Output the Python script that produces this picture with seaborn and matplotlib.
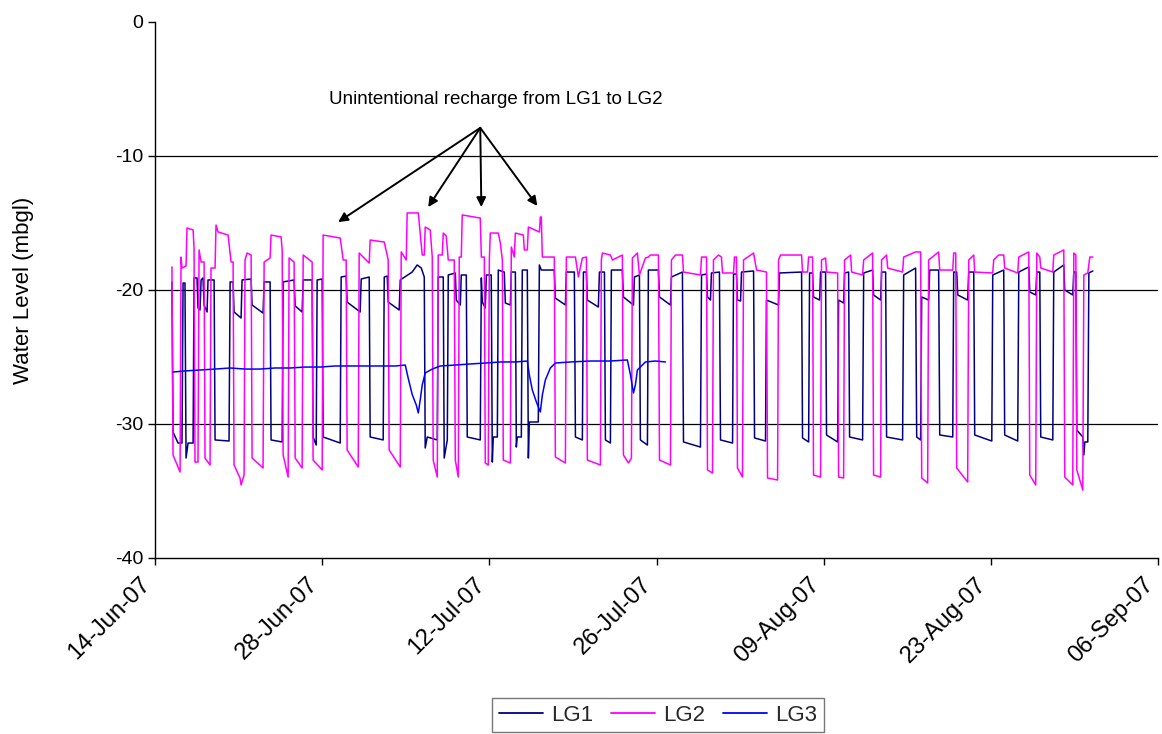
import numpy as np
import pandas as pd
import matplotlib
matplotlib.use("Agg")
import matplotlib.pyplot as plt
import matplotlib.dates as mdates
from matplotlib.lines import Line2D
import seaborn as sns

# ---- data: days since 14-Jun-2007, water level (m below ground) ----
lg1_days = [1.42,1.51,1.93,2.26,2.35,2.51,2.60,2.77,3.19,3.27,3.52,3.60,3.77,3.86,4.02,4.11,4.36,4.44,4.95,5.03,
            6.20,6.29,6.54,6.62,7.21,7.29,8.05,8.13,9.05,9.14,9.64,9.72,10.65,10.73,11.65,11.74,12.32,12.41,13.16,13.24,
            13.50,13.58,14.00,14.08,15.51,15.59,16.01,16.09,17.18,17.27,17.94,18.02,19.11,19.20,19.45,19.53,20.45,20.54,21.54,21.96,
            22.30,22.55,22.63,22.80,23.64,23.72,24.14,24.22,24.48,24.56,25.15,25.23,25.57,25.65,26.07,26.15,27.24,27.33,27.41,27.66,
            27.75,28.16,28.25,28.33,28.67,28.75,29.25,29.34,29.76,29.84,30.18,30.26,30.34,30.68,30.76,31.18,31.27,31.35,32.10,32.19,
            32.35,33.44,33.53,34.37,34.45,35.12,35.21,35.79,35.88,36.13,36.21,37.13,37.22,37.64,37.72,38.14,38.22,39.14,39.23,40.07,
            40.15,40.57,40.65,41.24,41.32,42.16,42.25,43.17,43.25,44.17,44.26,45.68,45.77,46.19,46.27,46.52,46.60,47.27,47.36,48.37,
            48.45,48.70,48.78,49.04,49.12,50.13,50.21,51.13,51.21,52.22,52.30,54.15,54.23,54.74,54.82,55.07,55.15,55.66,55.74,56.16,
            56.24,57.17,57.25,57.67,57.75,58.09,58.17,59.26,59.35,60.10,60.18,60.77,60.85,61.19,61.27,62.61,62.70,63.70,63.79,64.12,
            64.21,64.79,64.88,65.63,65.72,66.81,66.89,67.14,67.23,68.06,68.15,68.57,68.65,70.08,70.16,71.08,71.16,72.25,72.34,73.18,
            73.26,73.76,73.85,74.10,74.18,75.19,75.27,76.11,76.19,76.86,76.95,77.12,77.20,77.70,77.79,77.87,78.12,78.21,78.54]
lg1_level = [-19.40,-30.60,-31.42,-31.42,-19.48,-19.48,-32.54,-31.42,-31.42,-19.10,-19.10,-21.34,-21.49,-19.25,-19.10,-21.12,-21.64,-19.25,-19.25,-31.19,
             -31.27,-19.40,-19.40,-21.64,-22.09,-19.25,-19.18,-21.12,-21.72,-19.40,-19.40,-31.19,-31.34,-19.40,-19.25,-21.19,-21.64,-19.25,-19.25,-30.97,
             -31.57,-19.25,-19.18,-30.97,-31.42,-19.03,-18.96,-20.90,-21.64,-19.18,-19.03,-30.97,-31.19,-19.03,-18.96,-20.90,-21.49,-19.25,-18.66,-18.13,
             -18.36,-19.03,-31.79,-30.97,-31.19,-19.03,-19.03,-32.54,-31.19,-18.88,-18.73,-20.75,-21.12,-18.88,-18.88,-30.97,-31.19,-19.10,-20.90,-21.34,
             -18.88,-18.88,-32.84,-30.97,-30.97,-18.51,-18.66,-20.97,-21.12,-18.66,-18.66,-31.72,-30.97,-30.97,-18.51,-18.51,-32.54,-29.85,-29.85,-18.13,
             -18.51,-18.51,-20.60,-21.12,-18.66,-18.66,-30.97,-31.19,-18.66,-18.66,-20.75,-21.27,-18.66,-18.66,-31.19,-31.42,-18.51,-18.51,-20.52,-21.12,
             -19.03,-18.88,-31.19,-31.57,-18.51,-18.51,-20.52,-21.12,-19.03,-18.66,-31.34,-31.72,-18.88,-18.81,-20.52,-20.75,-18.73,-18.66,-31.19,-31.42,
             -18.81,-18.81,-20.75,-20.82,-18.66,-18.58,-31.04,-31.27,-20.75,-21.12,-18.73,-18.66,-31.04,-31.34,-18.73,-18.73,-20.52,-20.75,-18.66,-18.66,
             -30.82,-31.34,-20.75,-20.97,-18.73,-18.66,-30.97,-31.19,-18.73,-18.51,-20.37,-20.75,-18.66,-18.66,-30.97,-31.19,-18.88,-18.36,-30.97,-31.19,
             -20.52,-20.75,-18.51,-18.51,-30.82,-30.97,-18.66,-18.66,-20.37,-20.75,-18.66,-18.66,-30.82,-31.27,-18.88,-18.51,-30.82,-31.27,-18.66,-18.28,
             -20.15,-20.37,-18.66,-18.66,-30.97,-31.19,-18.66,-18.13,-20.00,-20.37,-18.66,-18.66,-30.45,-30.97,-32.31,-31.34,-31.34,-18.73,-18.58]

lg2_days = [1.42,1.51,2.10,2.18,2.26,2.60,2.68,3.19,3.27,3.35,3.60,3.69,3.86,4.11,4.19,4.61,4.69,5.03,5.11,5.28,
            6.12,6.37,6.54,6.62,7.12,7.21,7.46,7.54,7.71,8.05,8.13,9.05,9.14,9.64,9.72,10.56,10.65,10.73,11.15,11.23,
            11.65,11.74,12.32,12.41,13.16,13.24,14.00,14.08,15.51,15.76,16.01,16.09,17.02,17.10,17.94,18.02,19.20,19.53,19.61,20.54,
            20.62,21.04,21.12,22.05,22.38,22.55,22.63,23.05,23.22,23.30,23.64,23.72,24.06,24.14,24.39,24.56,25.06,25.15,25.40,25.48,
            25.65,25.73,27.24,27.33,27.58,27.66,27.91,28.00,28.08,28.75,28.92,29.09,29.17,29.76,29.84,30.09,30.18,30.85,30.93,31.18,
            31.27,32.19,32.27,32.35,32.44,33.44,33.53,34.37,34.45,35.21,35.46,35.79,36.13,36.21,37.30,37.38,37.47,38.14,38.31,39.14,
            39.23,39.65,39.90,39.98,40.40,40.57,41.07,41.32,41.49,42.16,42.25,43.17,43.25,43.59,44.17,44.26,45.68,45.77,46.19,46.27,
            46.69,46.77,47.19,47.44,47.53,48.45,48.53,48.70,48.78,49.20,49.29,50.13,50.38,51.21,51.30,52.14,52.22,52.39,54.15,54.23,
            54.65,54.74,55.07,55.15,55.74,55.82,56.16,56.24,57.17,57.25,57.67,57.75,58.26,58.34,59.26,59.35,60.10,60.18,60.77,60.85,
            61.27,61.36,62.61,62.70,63.70,64.12,64.21,64.71,64.79,65.63,65.72,66.81,66.89,67.06,67.14,68.06,68.15,68.57,68.65,70.16,
            70.24,70.66,71.08,71.16,72.25,72.34,73.18,73.26,73.76,73.85,74.10,74.18,75.19,75.27,76.11,76.19,76.86,76.95,77.12,77.20,
            77.70,77.79,78.12,78.29,78.54]
lg2_level = [-18.28,-32.31,-33.58,-17.54,-18.36,-18.21,-15.37,-15.52,-16.87,-32.84,-32.84,-17.01,-17.91,-17.91,-32.54,-33.06,-18.36,-18.36,-15.15,-15.67,
             -15.90,-17.91,-17.91,-33.06,-34.03,-34.55,-33.81,-17.76,-17.24,-17.39,-32.54,-33.28,-17.91,-17.61,-15.90,-16.04,-17.01,-32.31,-33.96,-17.61,
             -17.91,-32.54,-33.28,-17.39,-17.91,-32.69,-33.43,-15.90,-16.12,-17.76,-17.76,-31.94,-33.21,-17.24,-17.99,-16.27,-16.42,-17.76,-31.94,-33.21,
             -17.16,-17.76,-14.25,-14.25,-17.39,-17.39,-15.30,-15.52,-17.54,-32.69,-33.96,-17.39,-17.39,-15.75,-15.97,-17.76,-17.76,-32.69,-33.96,-17.54,
             -17.54,-14.40,-14.63,-17.54,-17.54,-32.91,-33.06,-17.76,-15.75,-15.75,-16.49,-17.76,-32.69,-32.91,-16.79,-17.54,-15.75,-15.90,-17.01,-17.01,
             -15.30,-15.67,-14.55,-14.55,-17.54,-17.54,-32.46,-32.91,-17.54,-17.54,-19.03,-17.61,-17.54,-32.69,-33.06,-17.76,-17.24,-17.39,-17.76,-17.39,
             -32.31,-32.91,-32.54,-17.61,-17.24,-18.88,-17.61,-17.54,-17.39,-17.39,-32.69,-33.06,-17.76,-17.39,-17.39,-18.66,-18.88,-17.54,-17.54,-33.43,
             -33.66,-17.76,-17.39,-17.54,-18.73,-18.73,-17.54,-17.54,-33.28,-33.96,-17.76,-17.24,-18.51,-18.66,-34.03,-34.18,-17.76,-17.39,-17.39,-18.66,
             -18.66,-17.54,-17.54,-33.81,-33.96,-17.76,-17.61,-18.66,-18.73,-33.96,-34.03,-17.76,-17.39,-18.66,-18.88,-17.76,-17.24,-33.81,-33.96,-17.76,
             -17.39,-18.36,-18.66,-17.54,-17.16,-17.16,-34.03,-34.40,-17.76,-17.16,-18.51,-18.51,-17.24,-17.24,-33.28,-34.33,-17.76,-17.39,-18.66,-18.73,
             -17.76,-17.39,-17.39,-18.36,-18.73,-17.54,-17.16,-33.81,-34.55,-17.24,-17.54,-18.36,-18.66,-17.39,-17.01,-33.96,-34.55,-17.24,-17.39,-33.43,
             -34.93,-18.88,-18.73,-17.54,-17.54]

lg3_days = [1.51,2.51,3.77,5.03,6.29,7.54,8.80,10.06,11.32,12.57,13.83,15.09,16.35,17.60,18.86,20.12,20.96,21.21,21.54,21.88,
            22.05,22.21,22.38,22.63,23.22,23.89,25.15,26.40,27.66,28.92,30.18,31.18,31.35,31.60,31.94,32.27,32.44,32.69,33.11,33.53,
            34.79,36.46,38.14,39.56,39.82,40.07,40.23,40.40,41.07,41.91,42.75]
lg3_level = [-26.12,-26.04,-25.97,-25.90,-25.82,-25.90,-25.90,-25.82,-25.82,-25.75,-25.75,-25.67,-25.67,-25.67,-25.67,-25.67,-25.60,-26.60,-27.80,-28.58,
             -29.18,-28.21,-27.09,-26.19,-25.90,-25.67,-25.60,-25.52,-25.45,-25.37,-25.37,-25.30,-26.34,-27.46,-28.36,-29.10,-27.84,-26.72,-25.82,-25.45,
             -25.37,-25.30,-25.30,-25.22,-26.34,-27.69,-27.09,-25.97,-25.37,-25.30,-25.37]

series_names = ["LG1", "LG2", "LG3"]
series_colors = ["#000080", "#FF00FF", "#0000FF"]
y_ticks = [0, -10, -20, -30, -40]
annotation_text = "Unintentional recharge from LG1 to LG2"
start_date = pd.Timestamp("2007-06-14")
end_date = pd.Timestamp("2007-09-06")

frames = []
for name, d, v in zip(series_names, [lg1_days, lg2_days, lg3_days], [lg1_level, lg2_level, lg3_level]):
    frames.append(pd.DataFrame({"date": start_date + pd.to_timedelta(d, unit="D"),
                                "level": v, "series": name}))
df = pd.concat(frames, ignore_index=True)

sns.set_theme(style="white")
plt.rcParams["font.family"] = ["Liberation Sans", "DejaVu Sans"]
plt.rcParams["axes.unicode_minus"] = False

fig = plt.figure(figsize=(11.62, 7.34), dpi=100)
ax = fig.add_axes([155/1162, (734-558)/734, (1158-155)/1162, (558-22)/734])

sns.lineplot(data=df, x="date", y="level", hue="series", hue_order=series_names,
             palette=series_colors, sort=False, estimator=None, units="series",
             linewidth=1.1, ax=ax, legend=False)

ax.set_xlim(start_date, end_date)
ax.set_ylim(-40, 0)
ax.set_yticks(y_ticks)
for yv in y_ticks[1:-1]:
    ax.axhline(yv, color="black", linewidth=0.9, zorder=0)

ticks = pd.date_range(start_date, end_date, freq="14D")
ax.set_xticks(ticks)
ax.xaxis.set_major_formatter(mdates.DateFormatter("%d-%b-%y"))
plt.setp(ax.get_xticklabels(), rotation=45, ha="right", va="top",
         rotation_mode="default", fontsize=17)

for s in ["top", "right"]:
    ax.spines[s].set_visible(False)
for s in ["left", "bottom"]:
    ax.spines[s].set_color("black")
    ax.spines[s].set_linewidth(1.0)
ax.tick_params(axis="both", which="major", direction="out", length=5, width=1,
               color="black", labelcolor="black", bottom=True, left=True)
ax.tick_params(axis="y", labelsize=14)
ax.tick_params(axis="x", pad=6)
ax.set_xlabel("")
ax.set_ylabel("Water Level (mbgl)", fontsize=16, color="black")
ax.yaxis.set_label_coords(-0.121, 0.5)

# annotation
src = (start_date + pd.Timedelta(days=27.24), -7.9)
targets = [(15.34, -14.93), (22.88, -13.81), (27.33, -13.81), (32.02, -13.73)]
for td, tv in targets:
    ax.annotate("", xy=(start_date + pd.Timedelta(days=td), tv), xytext=src,
                arrowprops=dict(arrowstyle="-|>", color="black", lw=1.4,
                                mutation_scale=14, shrinkA=0, shrinkB=0))
ax.text(start_date + pd.Timedelta(days=28.58), -5.82, annotation_text,
        ha="center", va="center", fontsize=13.5, color="black")

# legend
handles = [Line2D([0], [0], color=c, lw=1.3) for c in series_colors]
leg = fig.legend(handles, series_names, loc="upper center", bbox_to_anchor=(658/1162, (734-698)/734),
                 ncol=3, fontsize=16, frameon=True, fancybox=False, edgecolor="#555555",
                 handlelength=2.0, handletextpad=0.35, columnspacing=0.8, borderpad=0.3,
                 borderaxespad=0)
leg.get_frame().set_linewidth(1.0)

fig.savefig("out.png", dpi=100)
